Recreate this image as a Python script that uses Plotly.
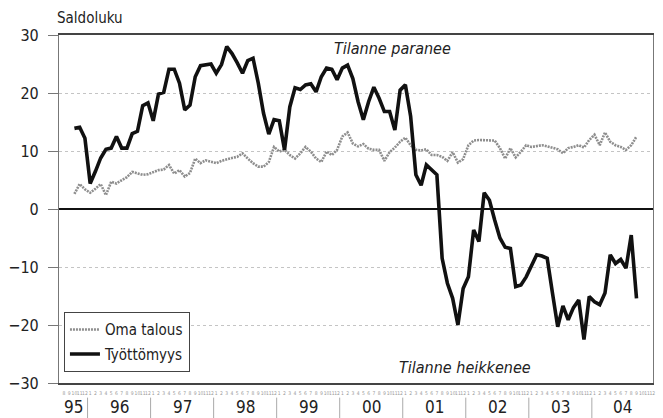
import plotly.graph_objects as go

# Monthly series, October 1995 - September 2004
oma_talous = [2.6, 4.3, 3.4, 2.8, 3.5, 4.3, 2.4, 4.7, 4.4, 5.0, 5.5, 6.4,
              6.1, 5.9, 6.0, 6.3, 6.7, 6.8, 7.6, 6.1, 6.7, 5.6, 6.2, 8.7,
              7.9, 8.4, 8.1, 7.9, 8.3, 8.6, 8.8, 9.0, 9.6, 8.7, 7.9, 7.3,
              7.3, 8.1, 10.7, 9.9, 10.2, 9.3, 8.7, 9.6, 10.7, 9.9, 8.7, 8.1,
              9.9, 9.3, 10.2, 12.5, 13.2, 11.3, 10.8, 11.2, 10.4, 10.2, 10.2, 8.3,
              9.8, 10.6, 11.6, 12.3, 11.0, 10.2, 10.1, 10.3, 9.3, 9.3, 9.0, 8.3,
              9.8, 8.0, 8.6, 11.0, 11.8, 11.9, 11.9, 11.9, 11.8, 10.5, 8.7, 10.5,
              8.9, 9.9, 11.0, 10.7, 10.8, 11.0, 10.8, 10.5, 10.3, 9.6, 10.5, 10.7,
              11.0, 10.6, 11.9, 12.8, 11.0, 13.2, 11.6, 11.0, 10.7, 10.2, 11.0, 12.5]

tyottomyys = [13.9, 14.1, 12.2, 4.4, 6.5, 8.8, 10.3, 10.5, 12.5, 10.5, 10.5, 13.0,
              13.4, 17.8, 18.3, 15.2, 19.8, 20.1, 24.1, 24.1, 21.7, 17.1, 17.9, 22.8,
              24.7, 24.9, 25.0, 23.4, 24.9, 28.0, 26.8, 25.2, 23.4, 25.6, 26.0, 21.7,
              16.5, 12.9, 15.4, 15.2, 10.2, 17.6, 20.9, 20.6, 21.4, 21.6, 20.2, 22.8,
              24.3, 24.1, 22.3, 24.3, 24.8, 22.5, 18.5, 15.4, 18.5, 21.0, 19.1, 16.8,
              16.8, 13.6, 20.5, 21.4, 16.0, 5.9, 4.1, 7.6, 6.7, 5.9, -8.5, -12.8,
              -15.4, -20.0, -13.7, -11.7, -3.6, -5.6, 2.8, 1.5, -1.9, -5.0, -6.6, -6.8,
              -13.4, -13.1, -11.7, -9.9, -7.9, -8.1, -8.5, -14.5, -20.3, -16.7, -19.1, -17.0,
              -15.7, -22.5, -15.1, -16.0, -16.5, -14.5, -7.9, -9.4, -8.7, -10.2, -4.5, -15.4]

start_year, start_month = 1995, 10
year_labels = ["95", "96", "97", "98", "99", "00", "01", "02", "03", "04"]
y_ticks = [-30, -20, -10, 0, 10, 20, 30]

x_start, x_end = 1995.547, 2004.97

x = [start_year + (start_month - 1 + k + 0.5) / 12 for k in range(len(oma_talous))]

# month tick labels July 1995 - December 2004
month_vals, month_text = [], []
for yr in range(1995, 2005):
    for m in range(1, 13):
        if yr == 1995 and m < 7:
            continue
        month_vals.append(yr + (m - 0.5) / 12)
        month_text.append(str(m))

FONT = "DejaVu Sans Condensed, Liberation Sans Narrow, Arial Narrow, sans-serif"

fig = go.Figure()
fig.add_trace(go.Scatter(x=x, y=oma_talous, mode="lines", name="Oma talous",
                         line=dict(color="#8e8e8e", width=2.6, dash="2px,1px"),
                         legendgroup="a"))
fig.add_trace(go.Scatter(x=x, y=tyottomyys, mode="lines", name="Työttömyys",
                         line=dict(color="#111111", width=3.6),
                         legendgroup="b"))

fig.update_layout(
    width=663, height=418,
    margin=dict(l=52, r=8, t=35, b=35),
    paper_bgcolor="white", plot_bgcolor="white",
    font=dict(family=FONT, color="#222"),
    showlegend=True,
    legend=dict(x=0.008, y=0.204, xanchor="left", yanchor="top",
                bgcolor="white", bordercolor="#444", borderwidth=1.2,
                font=dict(size=15, family=FONT, color="#222"),
                tracegroupgap=2, itemwidth=30),
)

fig.update_xaxes(range=[x_start, x_end], tickmode="array", tickvals=month_vals,
                 ticktext=month_text, tickfont=dict(size=5, color="#999"),
                 tickangle=0, ticks="", showgrid=False, zeroline=False,
                 showline=True, linecolor="#444", linewidth=1.5, mirror=True,
                 ticklabelstandoff=4)
fig.update_yaxes(range=[-30, 30], tickmode="array", tickvals=y_ticks,
                 tickfont=dict(size=16, color="#222"),
                 ticks="outside", ticklen=10, tickcolor="#777", tickwidth=1,
                 ticklabelstandoff=6,
                 showgrid=True, gridcolor="#c4c4c4", griddash="dot", gridwidth=1,
                 zeroline=True, zerolinecolor="#111", zerolinewidth=1.5,
                 showline=True, linecolor="#777", linewidth=1.2, mirror=True)

# year labels and separators
for k, lab in enumerate(year_labels):
    yr = 1995 + k
    lo = max(yr, x_start)
    hi = min(yr + 1, x_end)
    fig.add_annotation(x=(lo + hi) / 2, y=-0.068, xref="x", yref="paper",
                       text=lab, showarrow=False, yanchor="middle", borderpad=0,
                       font=dict(size=17, family=FONT, color="#222"))
    if k > 0:
        fig.add_shape(type="line", xref="x", yref="paper", x0=yr, x1=yr,
                      y0=-0.042, y1=-0.11, line=dict(color="#aaa", width=1))

fig.add_annotation(x=-0.006, y=1.05, xref="paper", yref="paper", text="Saldoluku",
                   showarrow=False, xanchor="left", yanchor="middle",
                   font=dict(size=15, family=FONT, color="#222"))
fig.add_annotation(x=2000.83, y=27.6, xref="x", yref="y", text="<i>Tilanne paranee</i>",
                   showarrow=False, xanchor="center", yanchor="middle",
                   font=dict(size=16, family=FONT, color="#222"))
fig.add_annotation(x=2001.98, y=-27.3, xref="x", yref="y", text="<i>Tilanne heikkenee</i>",
                   showarrow=False, xanchor="center", yanchor="middle",
                   font=dict(size=16, family=FONT, color="#222"))

fig.write_html("out.html", config={"displayModeBar": False},
               post_script="document.body.style.margin='0';document.body.style.overflow='hidden';")
